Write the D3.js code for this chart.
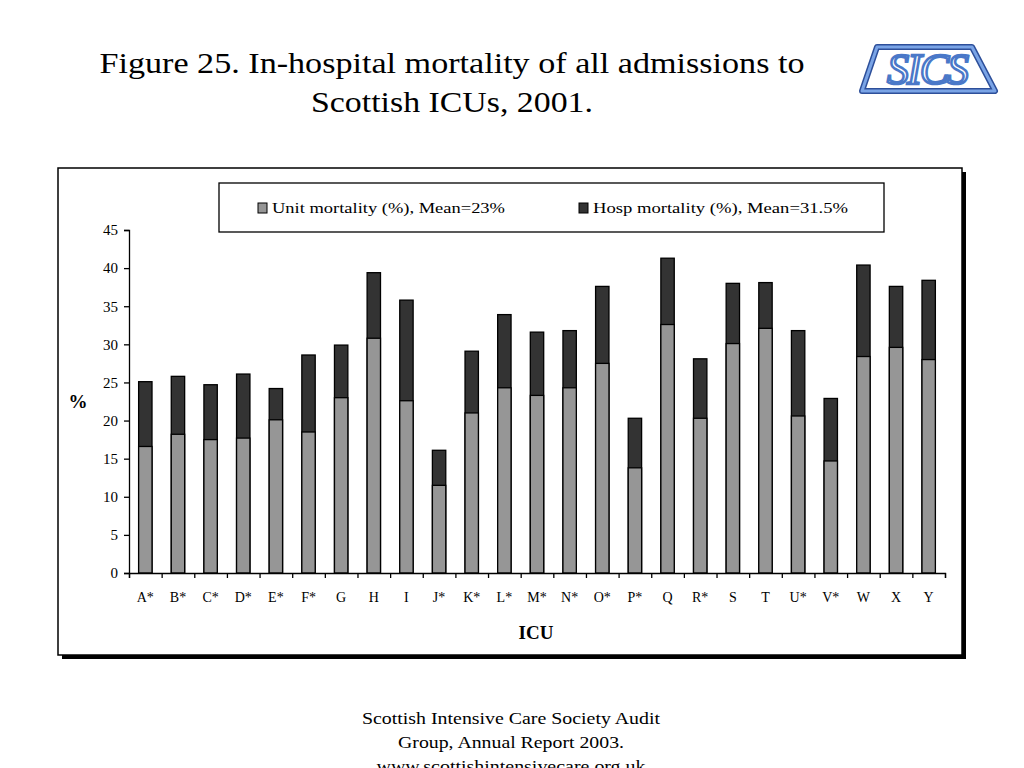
<!DOCTYPE html>
<html>
<head>
<meta charset="utf-8">
<script src="https://cdn.jsdelivr.net/npm/d3@7"></script>
<style>
  body { margin: 0; background: #fff; }
  svg text { font-family: "Liberation Serif", "Times New Roman", serif; }
</style>
</head>
<body>
<div id="chart"></div>
<script>
const icus = ['A*', 'B*', 'C*', 'D*', 'E*', 'F*', 'G', 'H', 'I', 'J*', 'K*', 'L*', 'M*',
  'N*', 'O*', 'P*', 'Q', 'R*', 'S', 'T', 'U*', 'V*', 'W', 'X', 'Y'];
const unitMortality = [16.6, 18.2, 17.5, 17.7, 20.1, 18.5, 23.0, 30.8, 22.6, 11.5, 21.0, 24.3, 23.3,
  24.3, 27.5, 13.8, 32.6, 20.3, 30.1, 32.1, 20.6, 14.7, 28.4, 29.6, 28.0];
const hospMortality = [25.1, 25.8, 24.7, 26.1, 24.2, 28.6, 29.9, 39.4, 35.8, 16.1, 29.1, 33.9, 31.6,
  31.8, 37.6, 20.3, 41.3, 28.1, 38.0, 38.1, 31.8, 22.9, 40.4, 37.6, 38.4];
const yTicks = [0, 5, 10, 15, 20, 25, 30, 35, 40, 45];
const legendLabels = ['Unit mortality (%), Mean=23%', 'Hosp mortality (%), Mean=31.5%'];

const width = 1024;
const height = 768;
const margin = { top: 230, bottom: 195, left: 129, right: 79 };

const svg = d3.select('#chart')
  .append('svg')
  .attr('width', width)
  .attr('height', height);

// title (slide text is a bit stretched sideways, hence textLength)
const title = svg.append('text')
  .attr('text-anchor', 'middle')
  .attr('font-size', '29px')
  .attr('fill', '#000');
title.append('tspan').attr('x', 452).attr('y', 73)
  .attr('textLength', 705).attr('lengthAdjust', 'spacingAndGlyphs')
  .text('Figure 25. In-hospital mortality of all admissions to');
title.append('tspan').attr('x', 452).attr('y', 112)
  .attr('textLength', 282).attr('lengthAdjust', 'spacingAndGlyphs')
  .text('Scottish ICUs, 2001.');

// logo
const logo = svg.append('g');
logo.append('path')
  .attr('d', 'M862,91 L877,47 L972,47 L995,91 Z')
  .attr('fill', 'none')
  .attr('stroke', '#2d4f9a')
  .attr('stroke-width', 6)
  .attr('stroke-linejoin', 'round');
logo.append('path')
  .attr('d', 'M862,91 L877,47 L972,47 L995,91 Z')
  .attr('fill', 'none')
  .attr('stroke', '#7aa4e6')
  .attr('stroke-width', 3)
  .attr('stroke-linejoin', 'round');
logo.append('text')
  .attr('x', 927).attr('y', 84)
  .attr('text-anchor', 'middle')
  .attr('font-size', '44px')
  .attr('font-style', 'italic')
  .attr('fill', 'none')
  .attr('stroke', '#4a78c8')
  .attr('stroke-width', 2.5)
  .attr('letter-spacing', '-2px')
  .text('SICS');

// chart frame with shadow
svg.append('rect')
  .attr('x', 62).attr('y', 172)
  .attr('width', 904).attr('height', 487)
  .attr('fill', '#000');
svg.append('rect')
  .attr('x', 58).attr('y', 168)
  .attr('width', 904).attr('height', 487)
  .attr('fill', '#fff')
  .attr('stroke', '#000')
  .attr('stroke-width', 1.5);

const x = d3.scaleBand()
  .domain(icus)
  .range([margin.left, width - margin.right])
  .paddingInner(0.59)
  .paddingOuter(0.295);

const y = d3.scaleLinear()
  .domain([0, 45])
  .range([height - margin.bottom, margin.top]);

// hosp bars (full height) then unit bars over them
svg.append('g')
  .selectAll('rect')
  .data(icus)
  .join('rect')
  .attr('x', d => x(d))
  .attr('y', (d, i) => y(hospMortality[i]))
  .attr('width', x.bandwidth())
  .attr('height', (d, i) => y(0) - y(hospMortality[i]))
  .attr('fill', '#333333')
  .attr('stroke', '#000')
  .attr('stroke-width', 1.3);

svg.append('g')
  .selectAll('rect')
  .data(icus)
  .join('rect')
  .attr('x', d => x(d))
  .attr('y', (d, i) => y(unitMortality[i]))
  .attr('width', x.bandwidth())
  .attr('height', (d, i) => y(0) - y(unitMortality[i]))
  .attr('fill', '#969696')
  .attr('stroke', '#000')
  .attr('stroke-width', 1.3);

// y axis
svg.append('g')
  .attr('transform', `translate(${margin.left},0)`)
  .call(d3.axisLeft(y).tickValues(yTicks).tickSize(5).tickPadding(6))
  .call(g => g.selectAll('path, line').attr('stroke', '#000').attr('stroke-width', 1.3))
  .call(g => g.selectAll('text').attr('font-size', '15px').attr('fill', '#000'));

// x axis: boundary ticks
const xb = d3.scaleLinear()
  .domain([0, icus.length])
  .range([margin.left, width - margin.right]);
svg.append('g')
  .attr('transform', `translate(0,${height - margin.bottom})`)
  .call(d3.axisBottom(xb).tickValues(d3.range(icus.length + 1))
    .tickSize(5).tickFormat(''))
  .call(g => g.selectAll('path, line').attr('stroke', '#000').attr('stroke-width', 1.3));

// x labels
svg.append('g')
  .attr('transform', `translate(0,${height - margin.bottom})`)
  .call(d3.axisBottom(x).tickSize(0).tickPadding(19))
  .call(g => g.select('.domain').remove())
  .call(g => g.selectAll('text').attr('font-size', '14px').attr('fill', '#000'));

// axis titles
svg.append('text')
  .attr('x', 78).attr('y', 408)
  .attr('text-anchor', 'middle')
  .attr('font-size', '19px')
  .attr('font-weight', 'bold')
  .text('%');
svg.append('text')
  .attr('x', 536).attr('y', 639)
  .attr('text-anchor', 'middle')
  .attr('font-size', '19px')
  .attr('font-weight', 'bold')
  .text('ICU');

// legend
const legend = svg.append('g');
legend.append('rect')
  .attr('x', 219).attr('y', 183)
  .attr('width', 665).attr('height', 49)
  .attr('fill', '#fff')
  .attr('stroke', '#000')
  .attr('stroke-width', 1.3);
const legendColors = ['#969696', '#333333'];
const legendX = [258, 579];
const legendWidths = [233, 255];
legendLabels.forEach((label, i) => {
  legend.append('rect')
    .attr('x', legendX[i]).attr('y', 203)
    .attr('width', 9).attr('height', 10)
    .attr('fill', legendColors[i])
    .attr('stroke', '#000')
    .attr('stroke-width', 1);
  legend.append('text')
    .attr('x', legendX[i] + 14).attr('y', 213)
    .attr('font-size', '15px')
    .attr('textLength', legendWidths[i])
    .attr('lengthAdjust', 'spacingAndGlyphs')
    .text(label);
});

// footer
const footer = svg.append('text')
  .attr('text-anchor', 'middle')
  .attr('font-size', '17px');
const footerWidths = [298, 226, 269];
['Scottish Intensive Care Society Audit', 'Group, Annual Report 2003.', 'www.scottishintensivecare.org.uk']
  .forEach((line, i) => {
    footer.append('tspan').attr('x', 511).attr('y', 724 + i * 24)
      .attr('textLength', footerWidths[i])
      .attr('lengthAdjust', 'spacingAndGlyphs')
      .text(line);
  });
</script>
</body>
</html>
